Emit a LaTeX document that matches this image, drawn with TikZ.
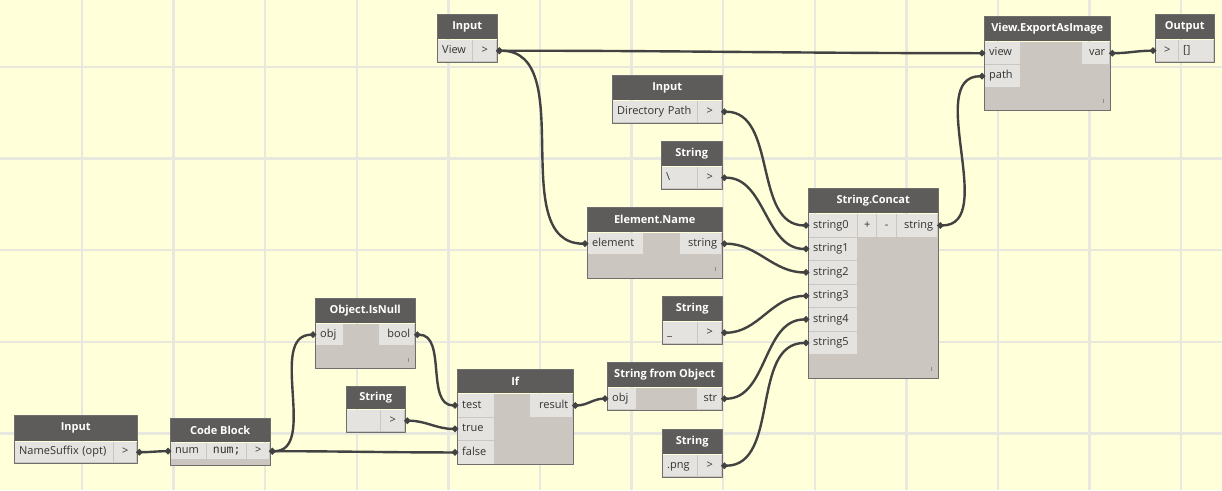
\documentclass[tikz,border=0pt]{standalone}
\usepackage{fontspec}
\setmainfont{Open Sans}
\newfontfamily\codefont{DejaVu Sans Mono}
\usetikzlibrary{arrows.meta}

\definecolor{canvas}{RGB}{255,255,218}
\definecolor{gridgray}{RGB}{232,232,222}
\definecolor{headgray}{RGB}{94,92,90}
\definecolor{bodygray}{RGB}{203,199,192}
\definecolor{cellgray}{RGB}{229,227,223}
\definecolor{framegray}{RGB}{110,110,110}
\definecolor{wiregray}{RGB}{66,66,66}
\definecolor{porttext}{RGB}{50,50,50}
\definecolor{gripgray}{RGB}{140,140,140}

\begin{document}
\begin{tikzpicture}[
    x=1pt, y=-1pt,
    font=\fontsize{11}{13}\selectfont,
    line join=round,
    every node/.style={inner sep=0pt, anchor=north west},
    head/.style={fill=headgray, text=white, font=\fontsize{11}{13}\selectfont\bfseries,
        minimum height=25pt},
    body/.style={fill=bodygray, minimum height=#1},
    cell/.style={fill=cellgray, text=porttext, inner xsep=4pt, minimum height=21pt,
        text height=8pt, text depth=2.5pt},
    inport/.style={cell, text width=#1, align=left},
    outport/.style={cell, text width=#1, align=right},
    arrowport/.style={cell, text width=#1, align=center},
    frame/.style={draw=framegray, line width=1pt},
    wire/.style={draw=wiregray, line width=2.4pt, {Circle[length=6pt]}-{Circle[length=6pt]},
        out=0, in=180},
    grip/.style={draw=gripgray, line width=1.2pt},
    gridline/.style={draw=gridgray, line width=2.5pt}
]
\useasboundingbox (0,0) rectangle (1222,490);

% Canvas
\fill[canvas] (0,0) rectangle (1222,490);
\foreach \i in {0,...,12}
  \draw[gridline] ({82+91.6*\i},0) -- ({82+91.6*\i},490);
\foreach \j in {0,...,4}
  \draw[gridline] (0,{67+91.6*\j}) -- (1222,{67+91.6*\j});

% Input: View
\node[head, minimum width=60pt] (viewhead) at (437,14) {Input};
\node[body=23pt, minimum width=60pt] (viewbody) at (viewhead.south west) {};
\node[inport=26pt] (viewname) at (438,40) {View};
\node[arrowport=15pt] (viewout) at (473,40) {>};
\draw[frame] (viewhead.north west) rectangle (viewbody.south east);

% Input: Directory Path
\node[head, minimum width=110pt] (dirhead) at (612,75) {Input};
\node[body=23pt, minimum width=110pt] (dirbody) at (dirhead.south west) {};
\node[inport=76pt] (dirname) at (613,101) {Directory Path};
\node[arrowport=15pt] (dirout) at (698,101) {>};
\draw[frame] (dirhead.north west) rectangle (dirbody.south east);

% String: backslash
\node[head, minimum width=61pt] (slashhead) at (661,141) {String};
\node[body=23pt, minimum width=61pt] (slashbody) at (slashhead.south west) {};
\node[inport=27pt] (slashval) at (662,167) {\textbackslash};
\node[arrowport=15pt] (slashout) at (698,167) {>};
\draw[frame] (slashhead.north west) rectangle (slashbody.south east);

% Element.Name
\node[head, minimum width=135pt] (elemhead) at (587,207) {Element.Name};
\node[body=46pt, minimum width=135pt] (elembody) at (elemhead.south west) {};
\node[inport=47pt] (elemin) at (588,233) {element};
\node[outport=33pt] (elemout) at (680,233) {string};
\draw[frame] (elemhead.north west) rectangle (elembody.south east);
\draw[grip] (elembody.south east) ++(-7,-12) -- ++(0,4);

% String.Concat
\node[head, minimum width=130pt] (cathead) at (808,188) {String.Concat};
\node[body=165pt, minimum width=130pt] (catbody) at (cathead.south west) {};
\foreach \k in {0,...,5}
  \node[inport=40pt, minimum height=22.5pt] (cat\k) at (809,{214+23.5*\k}) {string\k};
\node[arrowport=10pt, minimum height=22.5pt] (catplus) at (858,214) {+};
\node[arrowport=11pt, minimum height=22.5pt] (catminus) at (877,214) {-};
\node[outport=32pt, minimum height=22.5pt] (catout) at (897,214) {string};
\draw[frame] (cathead.north west) rectangle (catbody.south east);
\draw[grip] (catbody.south east) ++(-7,-12) -- ++(0,4);

% String: underscore
\node[head, minimum width=60pt] (underhead) at (662,296) {String};
\node[body=23pt, minimum width=60pt] (underbody) at (underhead.south west) {};
\node[inport=26pt] (underval) at (663,322) {\_};
\node[arrowport=15pt] (underout) at (698,322) {>};
\draw[frame] (underhead.north west) rectangle (underbody.south east);

% String from Object
\node[head, minimum width=115pt] (objhead) at (607,362) {String from Object};
\node[body=23pt, minimum width=115pt] (objbody) at (objhead.south west) {};
\node[inport=20pt] (objin) at (608,388) {obj};
\node[outport=16pt] (objout) at (697,388) {str};
\draw[frame] (objhead.north west) rectangle (objbody.south east);

% String: .png
\node[head, minimum width=60pt] (pnghead) at (662,429) {String};
\node[body=23pt, minimum width=60pt] (pngbody) at (pnghead.south west) {};
\node[inport=26pt] (pngval) at (663,455) {.png};
\node[arrowport=15pt] (pngout) at (698,455) {>};
\draw[frame] (pnghead.north west) rectangle (pngbody.south east);

% Object.IsNull
\node[head, minimum width=100pt] (nullhead) at (315,298) {Object.IsNull};
\node[body=45pt, minimum width=100pt] (nullbody) at (nullhead.south west) {};
\node[inport=19pt] (nullin) at (316,324) {obj};
\node[outport=27pt] (nullout) at (379,324) {bool};
\draw[frame] (nullhead.north west) rectangle (nullbody.south east);
\draw[grip] (nullbody.south east) ++(-7,-11) -- ++(0,4);

% String: empty
\node[head, minimum width=59pt, minimum height=23pt] (emptyhead) at (346,386) {String};
\node[body=23pt, minimum width=59pt] (emptybody) at (emptyhead.south west) {};
\node[inport=25pt] (emptyval) at (347,410) {};
\node[arrowport=15pt] (emptyout) at (381,410) {>};
\draw[frame] (emptyhead.north west) rectangle (emptybody.south east);

% If
\node[head, minimum width=116pt, minimum height=24pt] (ifhead) at (457,369) {If};
\node[body=71pt, minimum width=116pt] (ifbody) at (ifhead.south west) {};
\foreach \name/\lab [count=\k from 0] in {iftest/test, iftrue/true, iffalse/false}
  \node[inport=28pt, minimum height=22.5pt] (\name) at (458,{394+23.5*\k}) {\lab};
\node[outport=34pt, minimum height=22.5pt] (ifout) at (530,394) {result};
\draw[frame] (ifhead.north west) rectangle (ifbody.south east);

% Input: NameSuffix (opt)
\node[head, minimum width=123pt, minimum height=26pt] (suffixhead) at (14,415) {Input};
\node[body=22pt, minimum width=123pt] (suffixbody) at (suffixhead.south west) {};
\node[inport=90pt, minimum height=20pt] (suffixname) at (15,442) {NameSuffix (opt)};
\node[arrowport=14pt, minimum height=20pt] (suffixout) at (114,442) {>};
\draw[frame] (suffixhead.north west) rectangle (suffixbody.south east);

% Code Block
\node[head, minimum width=100pt, minimum height=24pt] (codehead) at (170,418) {Code Block};
\node[body=23pt, minimum width=100pt] (codebody) at (codehead.south west) {};
\node[inport=27pt, minimum height=16pt] (codein) at (171,443) {num};
\node[arrowport=31pt, minimum height=16pt, font=\codefont\fontsize{11.5}{13}\selectfont] (codeexpr) at (207,443) {num;};
\node[arrowport=14pt, minimum height=16pt] (codeout) at (247,443) {>};
\draw[frame] (codehead.north west) rectangle (codebody.south east);

% View.ExportAsImage
\node[head, minimum width=126pt] (exphead) at (984,16) {View.ExportAsImage};
\node[body=69pt, minimum width=126pt] (expbody) at (exphead.south west) {};
\node[inport=27pt, minimum height=22pt] (expview) at (985,42) {view};
\node[inport=27pt, minimum height=22pt] (exppath) at (985,65) {path};
\node[outport=19pt, minimum height=22pt] (expout) at (1082,42) {var};
\draw[frame] (exphead.north west) rectangle (expbody.south east);
\draw[grip] (expbody.south east) ++(-7,-12) -- ++(0,4);

% Output
\node[head, minimum width=59pt] (outhead) at (1155,14) {Output};
\node[body=23pt, minimum width=59pt] (outbody) at (outhead.south west) {};
\node[arrowport=14pt] (outin) at (1156,40) {>};
\node[inport=26pt] (outval) at (1179,40) {[]};
\draw[frame] (outhead.north west) rectangle (outbody.south east);

% Wires
\draw[wire] (viewout.east) to (expview.west);
\draw[wire] (viewout.east) to (elemin.west);
\draw[wire] (dirout.east) to (cat0.west);
\draw[wire] (slashout.east) to (cat1.west);
\draw[wire] (elemout.east) to (cat2.west);
\draw[wire] (underout.east) to (cat3.west);
\draw[wire] (objout.east) to (cat4.west);
\draw[wire] (pngout.east) to (cat5.west);
\draw[wire] (catout.east) to (exppath.west);
\draw[wire] (expout.east) to (outin.west);
\draw[wire] (suffixout.east) to (codein.west);
\draw[wire] (codeout.east) to (nullin.west);
\draw[wire] (codeout.east) to (iffalse.west);
\draw[wire] (nullout.east) to (iftest.west);
\draw[wire] (emptyout.east) to (iftrue.west);
\draw[wire] (ifout.east) to (objin.west);

\end{tikzpicture}
\end{document}
